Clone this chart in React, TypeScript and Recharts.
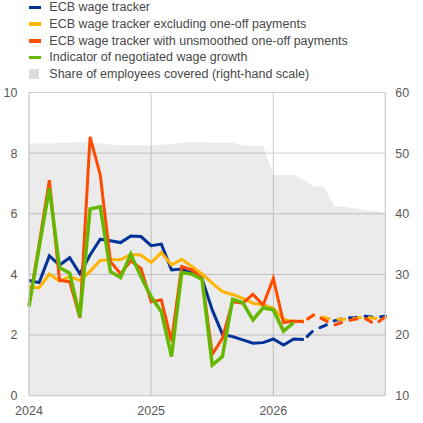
import React from 'react';
import { ComposedChart, Area, Line, XAxis, YAxis, CartesianGrid } from 'recharts';

const months = [
  'Jan 2024', 'Feb 2024', 'Mar 2024', 'Apr 2024', 'May 2024', 'Jun 2024',
  'Jul 2024', 'Aug 2024', 'Sep 2024', 'Oct 2024', 'Nov 2024', 'Dec 2024',
  'Jan 2025', 'Feb 2025', 'Mar 2025', 'Apr 2025', 'May 2025', 'Jun 2025',
  'Jul 2025', 'Aug 2025', 'Sep 2025', 'Oct 2025', 'Nov 2025', 'Dec 2025',
  'Jan 2026', 'Feb 2026', 'Mar 2026', 'Apr 2026', 'May 2026', 'Jun 2026',
  'Jul 2026', 'Aug 2026', 'Sep 2026', 'Oct 2026', 'Nov 2026', 'Dec 2026',
];

const yearLabels = ['2024', '2025', '2026'];

// share of employees covered, right-hand scale
const share = [
  51.6, 51.6, 51.6, 51.7, 51.7, 51.8, 51.7, 51.6, 51.4, 51.3, 51.3, 51.3,
  51.3, 51.4, 51.5, 51.7, 51.8, 51.8, 51.7, 51.7, 51.7, 51.3, 51.2, 51.2,
  46.4, 46.4, 46.4, 45.6, 44.5, 44.4, 41.2, 41.2, 40.9, 40.6, 40.5, 40.1,
];

const tracker = [
  3.8, 3.73, 4.61, 4.31, 4.55, 4.02, 4.64, 5.16, 5.11, 5.05, 5.27, 5.25,
  4.95, 5.0, 4.15, 4.18, 4.04, 3.86, 2.83, 2.03, 1.95, 1.84, 1.73, 1.75,
  1.87, 1.67, 1.87, 1.85, null, null, null, null, null, null, null, null,
];
const trackerProj = [
  null, null, null, null, null, null, null, null, null, null, null, null,
  null, null, null, null, null, null, null, null, null, null, null, null,
  null, null, null, 1.85, 2.17, 2.3, 2.47, 2.56, 2.58, 2.62, 2.58, 2.62,
];

const exOneOff = [
  3.58, 3.56, 4.01, 3.78, 3.93, 3.8, 4.1, 4.46, 4.48, 4.48, 4.66, 4.64,
  4.39, 4.72, 4.31, 4.5, 4.26, 4.02, 3.71, 3.43, 3.34, 3.21, 3.05, 2.99,
  2.88, 2.52, 2.44, 2.46, null, null, null, null, null, null, null, null,
];
const exOneOffProj = [
  null, null, null, null, null, null, null, null, null, null, null, null,
  null, null, null, null, null, null, null, null, null, null, null, null,
  null, null, null, 2.46, 2.66, 2.58, 2.52, 2.52, 2.55, 2.6, 2.55, 2.57,
];

const unsmoothed = [
  3.0, 5.0, 7.11, 3.8, 3.76, 2.57, 8.54, 7.28, 4.42, 4.02, 4.45, 4.2,
  3.1, 3.16, 1.8, 4.26, 4.15, 3.87, 1.36, 1.89, 3.1, 3.05, 3.34, 2.99,
  3.87, 2.41, 2.46, 2.44, null, null, null, null, null, null, null, null,
];
const unsmoothedProj = [
  null, null, null, null, null, null, null, null, null, null, null, null,
  null, null, null, null, null, null, null, null, null, null, null, null,
  null, null, null, 2.44, 2.68, 2.5, 2.33, 2.45, 2.52, 2.55, 2.36, 2.6,
];

const negotiated = [
  2.94, 4.9, 6.84, 4.22, 4.04, 2.6, 6.16, 6.23, 4.09, 3.9, 4.67, 3.92,
  3.26, 2.77, 1.29, 4.06, 4.01, 3.84, 1.01, 1.29, 3.18, 3.07, 2.5, 2.9,
  2.83, 2.13, 2.41, null, null, null, null, null, null, null, null, null,
];

const BLUE = '#003299';
const YELLOW = '#ffb400';
const RED = '#ff4b00';
const GREEN = '#65b800';
const GRID = '#cfcfcf';
const FONT = '"Liberation Sans", Arial, sans-serif';

const legendItems = [
  { label: 'ECB wage tracker', color: BLUE, box: false },
  { label: 'ECB wage tracker excluding one-off payments', color: YELLOW, box: false },
  { label: 'ECB wage tracker with unsmoothed one-off payments', color: RED, box: false },
  { label: 'Indicator of negotiated wage growth', color: GREEN, box: false },
  { label: 'Share of employees covered (right-hand scale)', color: '#dedede', box: true },
];

const data = months.map((m, i) => ({
  idx: i,
  month: m,
  share: share[i],
  tracker: tracker[i],
  trackerProj: trackerProj[i],
  exOneOff: exOneOff[i],
  exOneOffProj: exOneOffProj[i],
  unsmoothed: unsmoothed[i],
  unsmoothedProj: unsmoothedProj[i],
  negotiated: negotiated[i],
}));

const yearTicks = yearLabels.map((y) => months.indexOf(`Jan ${y}`));

const tickStyle = { fill: '#595959', fontSize: 12.5, fontFamily: FONT };
// projections: long rounded dashes, starting with a short gap after the solid part
const dash = { strokeDasharray: '7 8.7', strokeDashoffset: 11, strokeLinecap: 'round' as const };

const App: React.FC = () => (
  <div style={{ position: 'absolute', left: 0, top: 0, width: 423, height: 423, background: '#fff', fontFamily: FONT }}>
    {legendItems.map((it, i) => (
      <div
        key={it.label}
        style={{ position: 'absolute', left: 0, top: -0.8 + i * 16.67, height: 16.67, width: 423 }}
      >
        <div
          style={{
            position: 'absolute',
            left: 29,
            top: it.box ? 3.3 : 6.6,
            width: it.box ? 10 : 12,
            height: it.box ? 10 : 3.5,
            background: it.color,
          }}
        />
        <div
          style={{
            position: 'absolute',
            left: 49.3,
            top: 0,
            lineHeight: '16.67px',
            fontSize: 12.5,
            color: '#484848',
            whiteSpace: 'nowrap',
          }}
        >
          {it.label}
        </div>
      </div>
    ))}
    <div style={{ position: 'absolute', left: 0, top: 0 }}>
      <ComposedChart width={423} height={423} data={data} margin={{ top: 92.5, right: 0, bottom: 0, left: 0 }}>
        <CartesianGrid stroke={GRID} strokeWidth={1} />
        <XAxis
          dataKey="idx"
          type="number"
          domain={[0, 35]}
          ticks={yearTicks}
          interval={0}
          tickFormatter={(v) => months[v].slice(4)}
          height={27.3}
          tickLine={false}
          tickSize={0}
          tickMargin={10}
          axisLine={{ stroke: GRID }}
          tick={tickStyle}
        />
        <YAxis
          domain={[0, 10]}
          ticks={[0, 2, 4, 6, 8, 10]}
          interval={0}
          width={29}
          tickLine={false}
          tickSize={0}
          tickMargin={11.5}
          axisLine={{ stroke: GRID }}
          tick={tickStyle}
        />
        <YAxis
          yAxisId="right"
          orientation="right"
          domain={[10, 60]}
          ticks={[10, 20, 30, 40, 50, 60]}
          interval={0}
          width={37.7}
          tickLine={false}
          tickSize={0}
          tickMargin={10}
          axisLine={{ stroke: GRID }}
          tick={tickStyle}
        />
        <Area
          yAxisId="right"
          type="linear"
          dataKey="share"
          stroke="none"
          fill="#000"
          fillOpacity={0.08}
          isAnimationActive={false}
        />
        <Line type="linear" dataKey="tracker" stroke={BLUE} strokeWidth={3} dot={false} isAnimationActive={false} />
        <Line type="linear" dataKey="trackerProj" stroke={BLUE} strokeWidth={3} dot={false} {...dash} isAnimationActive={false} />
        <Line type="linear" dataKey="exOneOff" stroke={YELLOW} strokeWidth={3} dot={false} isAnimationActive={false} />
        <Line type="linear" dataKey="exOneOffProj" stroke={YELLOW} strokeWidth={3} dot={false} {...dash} isAnimationActive={false} />
        <Line type="linear" dataKey="unsmoothed" stroke={RED} strokeWidth={3} dot={false} isAnimationActive={false} />
        <Line type="linear" dataKey="unsmoothedProj" stroke={RED} strokeWidth={3} dot={false} {...dash} isAnimationActive={false} />
        <Line type="linear" dataKey="negotiated" stroke={GREEN} strokeWidth={3.5} dot={false} isAnimationActive={false} />
      </ComposedChart>
    </div>
  </div>
);

export default App;
